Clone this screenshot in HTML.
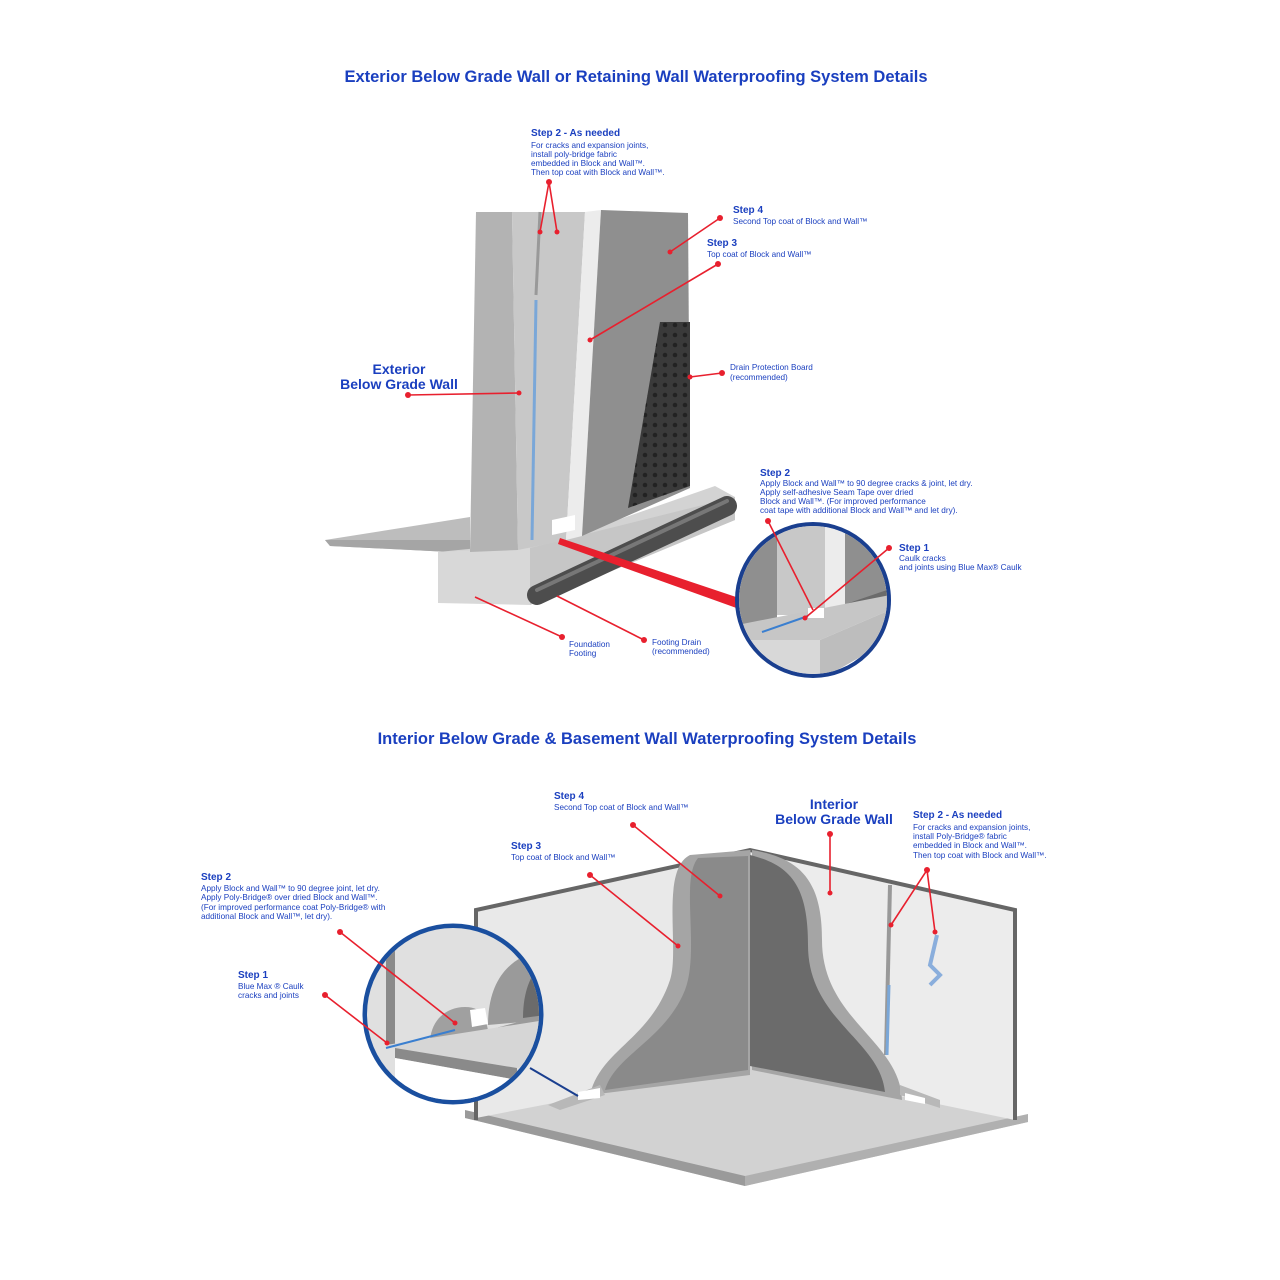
<!DOCTYPE html>
<html><head><meta charset="utf-8"><style>
html,body{margin:0;padding:0;background:#fff}
svg{display:block}
text{font-family:"Liberation Sans",sans-serif;fill:#1a3fbf}
.t{font-size:16.5px;font-weight:bold}
.h{font-size:10px;font-weight:bold}
.s{font-size:8.2px}
.b{font-size:14px;font-weight:bold}
.r{stroke:#e8202e;stroke-width:1.6;fill:none}
.d{fill:#e8202e}
</style></head><body>
<svg width="1280" height="1280" viewBox="0 0 1280 1280">
<defs>
<pattern id="dots" width="10" height="10" patternUnits="userSpaceOnUse"><circle cx="5" cy="5" r="2.3" fill="#222"/></pattern>
</defs>
<rect width="1280" height="1280" fill="#fff"/>
<text class="t" x="636" y="82" text-anchor="middle">Exterior Below Grade Wall or Retaining Wall Waterproofing System Details</text>

<polygon points="325,540 470,517 470,553 330,546" fill="#bdbdbd"/>
<polygon points="325,540 470,540 470,553 330,546" fill="#a5a5a5"/>
<polygon points="438,552 560,540 715,486 735,497 735,520 530,603 438,603" fill="#d3d3d3"/>
<polygon points="438,552 530,548 530,605 438,603" fill="#d8d8d8"/>
<polygon points="530,548 735,497 735,520 530,605" fill="#c6c6c6"/>
<polygon points="476,212 512,212 518,550 470,552" fill="#b3b3b3"/>
<polygon points="512,212 585,212 566,540 518,550" fill="#c8c8c8"/>
<polygon points="585,212 601,210 582,536 566,540" fill="#ececec"/>
<polygon points="601,210 688,213 690,488 582,536" fill="#8f8f8f"/>
<line x1="536" y1="300" x2="532" y2="540" stroke="#7aa7d8" stroke-width="3"/>
<line x1="540" y1="212" x2="536" y2="295" stroke="#999" stroke-width="3"/>
<polygon points="552,520 575,515 575,530 552,535" fill="#fff"/>
<polygon points="660,322 690,322 690,486 628,508" fill="#3a3a3a"/>
<polygon points="660,322 690,322 690,486 628,508" fill="url(#dots)"/>
<line x1="537" y1="595" x2="727" y2="506" stroke="#4d4d4d" stroke-width="20" stroke-linecap="round"/>
<line x1="537" y1="590" x2="727" y2="501" stroke="#777" stroke-width="4" stroke-linecap="round"/>
<polygon points="560,538 745,600 742,610 558,544" fill="#e8202e"/>
<circle cx="813" cy="600" r="76" fill="#fff" stroke="#1a3f8f" stroke-width="4"/>
<clipPath id="c1"><circle cx="813" cy="600" r="74"/></clipPath>
<g clip-path="url(#c1)">
<rect x="737" y="520" width="40" height="110" fill="#8f8f8f"/>
<rect x="777" y="520" width="48" height="95" fill="#c8c8c8"/>
<rect x="825" y="520" width="20" height="95" fill="#ececec"/>
<rect x="845" y="520" width="50" height="85" fill="#8f8f8f"/>
<polygon points="843,605 893,588 893,600 843,615" fill="#6b6b6b"/>
<polygon points="737,625 890,595 890,610 820,640 737,640" fill="#c6c6c6"/>
<polygon points="737,640 820,640 820,680 737,680" fill="#d8d8d8"/>
<polygon points="820,640 890,610 890,640 820,680" fill="#bdbdbd"/>
<rect x="808" y="608" width="16" height="10" fill="#fff"/>
<line x1="762" y1="632" x2="808" y2="616" stroke="#3a7fd0" stroke-width="2"/>
</g>

<text class="h" x="531" y="136">Step 2 - As needed</text>
<text class="s" x="531" y="148">For cracks and expansion joints,</text>
<text class="s" x="531" y="157">install poly-bridge fabric</text>
<text class="s" x="531" y="166">embedded in Block and Wall™.</text>
<text class="s" x="531" y="175">Then top coat with Block and Wall™.</text>
<polyline class="r" points="540,232 549,182 557,232"/><circle class="d" cx="549" cy="182" r="3"/><circle class="d" cx="540" cy="232" r="2.5"/><circle class="d" cx="557" cy="232" r="2.5"/>
<text class="h" x="733" y="213">Step 4</text>
<text class="s" x="733" y="224">Second Top coat of Block and Wall™</text>
<line class="r" x1="670" y1="252" x2="720" y2="218"/><circle class="d" cx="720" cy="218" r="3"/><circle class="d" cx="670" cy="252" r="2.5"/>
<text class="h" x="707" y="246">Step 3</text>
<text class="s" x="707" y="257">Top coat of Block and Wall™</text>
<line class="r" x1="590" y1="340" x2="718" y2="264"/><circle class="d" cx="718" cy="264" r="3"/><circle class="d" cx="590" cy="340" r="2.5"/>
<text class="s" x="730" y="370">Drain Protection Board</text>
<text class="s" x="730" y="380">(recommended)</text>
<line class="r" x1="690" y1="377" x2="722" y2="373"/><circle class="d" cx="722" cy="373" r="3"/><circle class="d" cx="690" cy="377" r="2.5"/>
<text class="b" x="399" y="374" text-anchor="middle">Exterior</text>
<text class="b" x="399" y="389" text-anchor="middle">Below Grade  Wall</text>
<line class="r" x1="408" y1="395" x2="519" y2="393"/><circle class="d" cx="408" cy="395" r="3"/><circle class="d" cx="519" cy="393" r="2.5"/>
<text class="h" x="760" y="476">Step 2</text>
<text class="s" x="760" y="486">Apply Block and Wall™ to 90 degree cracks &amp; joint, let dry.</text>
<text class="s" x="760" y="495">Apply self-adhesive Seam Tape over dried</text>
<text class="s" x="760" y="504">Block and Wall™. (For improved performance</text>
<text class="s" x="760" y="513">coat tape with additional Block and Wall™ and let dry).</text>
<line class="r" x1="768" y1="521" x2="813" y2="610"/><circle class="d" cx="768" cy="521" r="3"/>
<text class="h" x="899" y="551">Step 1</text>
<text class="s" x="899" y="561">Caulk cracks</text>
<text class="s" x="899" y="570">and joints using Blue Max® Caulk</text>
<line class="r" x1="889" y1="548" x2="805" y2="618"/><circle class="d" cx="889" cy="548" r="3"/><circle class="d" cx="805" cy="618" r="2.5"/>
<line class="r" x1="475" y1="597" x2="562" y2="637"/><circle class="d" cx="562" cy="637" r="3"/>
<text class="s" x="569" y="647">Foundation</text>
<text class="s" x="569" y="656">Footing</text>
<line class="r" x1="557" y1="596" x2="644" y2="640"/><circle class="d" cx="644" cy="640" r="3"/>
<text class="s" x="652" y="645">Footing Drain</text>
<text class="s" x="652" y="654">(recommended)</text>

<text class="t" x="647" y="744" text-anchor="middle">Interior Below Grade &amp; Basement Wall Waterproofing System Details</text>
<polygon points="465,1118 745,1186 1028,1122 750,1065" fill="#d2d2d2"/>
<polygon points="465,1118 745,1186 745,1176 465,1110" fill="#9a9a9a"/>
<polygon points="745,1186 1028,1122 1028,1114 745,1176" fill="#b0b0b0"/>
<polygon points="476,910 750,850 750,1065 476,1118" fill="#e9e9e9"/>
<polygon points="750,850 1015,910 1015,1120 750,1065" fill="#ececec"/>
<polyline points="476,1120 476,910 750,850 1015,910 1015,1120" fill="none" stroke="#666" stroke-width="4"/>
<line x1="750" y1="850" x2="750" y2="1065" stroke="#999" stroke-width="1"/>
<path d="M690,855 C660,870 680,950 670,980 C650,1040 600,1050 590,1095 L750,1075 L750,850 Z" fill="#a5a5a5"/>
<path d="M698,858 C680,880 700,950 685,990 C665,1040 615,1055 605,1090 L748,1070 L748,856 Z" fill="#8a8a8a"/>
<path d="M752,850 C800,858 822,880 822,940 C822,1020 900,1040 902,1100 L752,1070 Z" fill="#a5a5a5"/>
<path d="M750,855 C790,865 808,885 808,945 C808,1020 880,1040 885,1092 L750,1066 Z" fill="#6b6b6b"/>
<polygon points="548,1105 600,1085 605,1095 560,1110" fill="#b8b8b8"/>
<polygon points="578,1092 600,1088 600,1098 578,1100" fill="#fff"/>
<polygon points="900,1085 940,1100 940,1108 900,1095" fill="#b8b8b8"/>
<polygon points="905,1093 925,1098 925,1104 905,1100" fill="#fff"/>
<line x1="890" y1="885" x2="886" y2="1055" stroke="#999" stroke-width="4"/>
<line x1="889" y1="985" x2="887" y2="1055" stroke="#7aa7d8" stroke-width="3"/>
<polyline points="937,935 930,965 940,975 930,985" fill="none" stroke="#8aaedc" stroke-width="4"/>
<line x1="530" y1="1068" x2="578" y2="1096" stroke="#1a3f8f" stroke-width="2"/>
<circle cx="453" cy="1014" r="88" fill="#fff" stroke="#1a4f9f" stroke-width="5"/>
<clipPath id="c2"><circle cx="453" cy="1014" r="86"/></clipPath>
<g clip-path="url(#c2)">
<rect x="360" y="920" width="190" height="190" fill="#e0e0e0"/>
<rect x="386" y="920" width="9" height="125" fill="#8a8a8a"/>
<path d="M488,1025 C488,980 510,955 545,950 L545,1020 Z" fill="#9a9a9a"/>
<path d="M523,1018 C523,985 535,968 545,962 L545,1015 Z" fill="#6b6b6b"/>
<path d="M430,1040 C432,1018 448,1007 465,1007 C480,1007 485,1015 488,1030 Z" fill="#a0a0a0"/>
<polygon points="470,1010 485,1008 488,1024 472,1027" fill="#fff"/>
<polygon points="443,1042 545,1015 545,1025 470,1043" fill="#9a9a9a"/>
<polygon points="386,1045 545,1020 545,1062 517,1068 395,1048" fill="#d6d6d6"/>
<polygon points="395,1048 517,1068 517,1080 395,1058" fill="#8a8a8a"/>
<polygon points="395,1058 517,1080 517,1110 395,1110" fill="#fff"/>
<line x1="386" y1="1048" x2="455" y2="1030" stroke="#3a7fd0" stroke-width="2"/>
</g>

<text class="h" x="554" y="799">Step 4</text>
<text class="s" x="554" y="810">Second Top coat of Block and Wall™</text>
<line class="r" x1="633" y1="825" x2="720" y2="896"/><circle class="d" cx="633" cy="825" r="3"/><circle class="d" cx="720" cy="896" r="2.5"/>
<text class="h" x="511" y="849">Step 3</text>
<text class="s" x="511" y="860">Top coat of Block and Wall™</text>
<line class="r" x1="590" y1="875" x2="678" y2="946"/><circle class="d" cx="590" cy="875" r="3"/><circle class="d" cx="678" cy="946" r="2.5"/>
<text class="b" x="834" y="809" text-anchor="middle">Interior</text>
<text class="b" x="834" y="824" text-anchor="middle">Below Grade Wall</text>
<line class="r" x1="830" y1="834" x2="830" y2="893"/><circle class="d" cx="830" cy="834" r="3"/><circle class="d" cx="830" cy="893" r="2.5"/>
<text class="h" x="913" y="818">Step 2 - As needed</text>
<text class="s" x="913" y="830">For cracks and expansion joints,</text>
<text class="s" x="913" y="839">install Poly-Bridge® fabric</text>
<text class="s" x="913" y="848">embedded in Block and Wall™.</text>
<text class="s" x="913" y="858">Then top coat with Block and Wall™.</text>
<polyline class="r" points="891,925 927,870 935,932"/><circle class="d" cx="927" cy="870" r="3"/><circle class="d" cx="891" cy="925" r="2.5"/><circle class="d" cx="935" cy="932" r="2.5"/>
<text class="h" x="201" y="880">Step 2</text>
<text class="s" x="201" y="891">Apply Block and Wall™ to 90 degree joint, let dry.</text>
<text class="s" x="201" y="900">Apply Poly-Bridge® over dried Block and Wall™.</text>
<text class="s" x="201" y="910">(For improved performance coat Poly-Bridge® with</text>
<text class="s" x="201" y="919">additional Block and Wall™, let dry).</text>
<line class="r" x1="340" y1="932" x2="455" y2="1023"/><circle class="d" cx="340" cy="932" r="3"/><circle class="d" cx="455" cy="1023" r="2.5"/>
<text class="h" x="238" y="978">Step 1</text>
<text class="s" x="238" y="989">Blue Max ® Caulk</text>
<text class="s" x="238" y="998">cracks and joints</text>
<line class="r" x1="325" y1="995" x2="387" y2="1043"/><circle class="d" cx="325" cy="995" r="3"/><circle class="d" cx="387" cy="1043" r="2.5"/>
</svg>
</body></html>
